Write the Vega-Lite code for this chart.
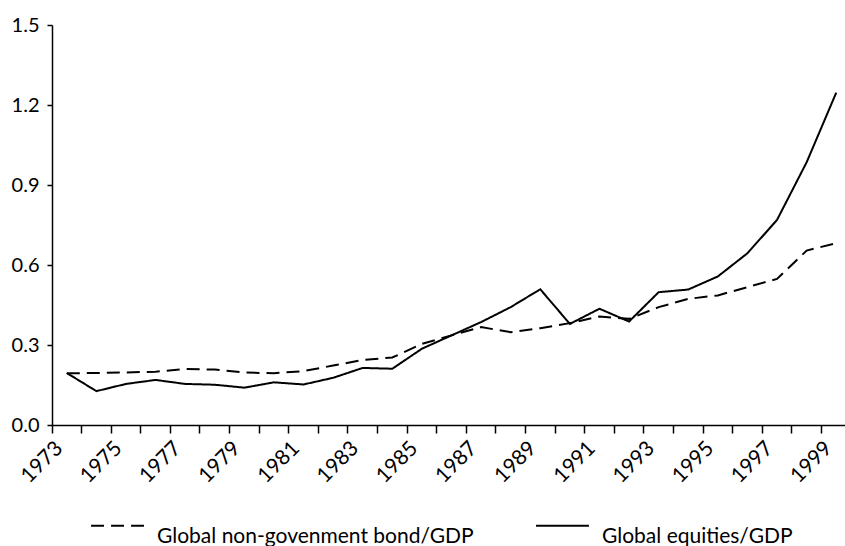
{
  "$schema": "https://vega.github.io/schema/vega-lite/v6.json",
  "autosize": {"type": "none"},
  "padding": {"left": 52, "top": 25, "right": 0, "bottom": 121},
  "width": 799,
  "height": 400,
  "background": "white",
  "config": {
    "font": "Lato",
    "view": {"stroke": null},
    "axis": {"grid": false, "domainColor": "black", "domainWidth": 1.5, "tickColor": "black", "tickWidth": 1.5, "labelColor": "black", "labelFont": "Lato", "labelFontSize": 20, "titleFontSize": 20}
  },
  "data": {
    "values": [
      {"year": 1973, "series": "Global non-govenment bond/GDP", "value": 0.194},
      {"year": 1974, "series": "Global non-govenment bond/GDP", "value": 0.195},
      {"year": 1975, "series": "Global non-govenment bond/GDP", "value": 0.197},
      {"year": 1976, "series": "Global non-govenment bond/GDP", "value": 0.200},
      {"year": 1977, "series": "Global non-govenment bond/GDP", "value": 0.210},
      {"year": 1978, "series": "Global non-govenment bond/GDP", "value": 0.208},
      {"year": 1979, "series": "Global non-govenment bond/GDP", "value": 0.197},
      {"year": 1980, "series": "Global non-govenment bond/GDP", "value": 0.194},
      {"year": 1981, "series": "Global non-govenment bond/GDP", "value": 0.202},
      {"year": 1982, "series": "Global non-govenment bond/GDP", "value": 0.223},
      {"year": 1983, "series": "Global non-govenment bond/GDP", "value": 0.244},
      {"year": 1984, "series": "Global non-govenment bond/GDP", "value": 0.253},
      {"year": 1985, "series": "Global non-govenment bond/GDP", "value": 0.304},
      {"year": 1986, "series": "Global non-govenment bond/GDP", "value": 0.336},
      {"year": 1987, "series": "Global non-govenment bond/GDP", "value": 0.367},
      {"year": 1988, "series": "Global non-govenment bond/GDP", "value": 0.348},
      {"year": 1989, "series": "Global non-govenment bond/GDP", "value": 0.363},
      {"year": 1990, "series": "Global non-govenment bond/GDP", "value": 0.382},
      {"year": 1991, "series": "Global non-govenment bond/GDP", "value": 0.407},
      {"year": 1992, "series": "Global non-govenment bond/GDP", "value": 0.398},
      {"year": 1993, "series": "Global non-govenment bond/GDP", "value": 0.442},
      {"year": 1994, "series": "Global non-govenment bond/GDP", "value": 0.473},
      {"year": 1995, "series": "Global non-govenment bond/GDP", "value": 0.486},
      {"year": 1996, "series": "Global non-govenment bond/GDP", "value": 0.517},
      {"year": 1997, "series": "Global non-govenment bond/GDP", "value": 0.548},
      {"year": 1998, "series": "Global non-govenment bond/GDP", "value": 0.654},
      {"year": 1999, "series": "Global non-govenment bond/GDP", "value": 0.682},
      {"year": 1973, "series": "Global equities/GDP", "value": 0.195},
      {"year": 1974, "series": "Global equities/GDP", "value": 0.127},
      {"year": 1975, "series": "Global equities/GDP", "value": 0.154},
      {"year": 1976, "series": "Global equities/GDP", "value": 0.169},
      {"year": 1977, "series": "Global equities/GDP", "value": 0.154},
      {"year": 1978, "series": "Global equities/GDP", "value": 0.151},
      {"year": 1979, "series": "Global equities/GDP", "value": 0.140},
      {"year": 1980, "series": "Global equities/GDP", "value": 0.160},
      {"year": 1981, "series": "Global equities/GDP", "value": 0.152},
      {"year": 1982, "series": "Global equities/GDP", "value": 0.177},
      {"year": 1983, "series": "Global equities/GDP", "value": 0.214},
      {"year": 1984, "series": "Global equities/GDP", "value": 0.211},
      {"year": 1985, "series": "Global equities/GDP", "value": 0.286},
      {"year": 1986, "series": "Global equities/GDP", "value": 0.336},
      {"year": 1987, "series": "Global equities/GDP", "value": 0.386},
      {"year": 1988, "series": "Global equities/GDP", "value": 0.442},
      {"year": 1989, "series": "Global equities/GDP", "value": 0.509},
      {"year": 1990, "series": "Global equities/GDP", "value": 0.379},
      {"year": 1991, "series": "Global equities/GDP", "value": 0.436},
      {"year": 1992, "series": "Global equities/GDP", "value": 0.388},
      {"year": 1993, "series": "Global equities/GDP", "value": 0.498},
      {"year": 1994, "series": "Global equities/GDP", "value": 0.508},
      {"year": 1995, "series": "Global equities/GDP", "value": 0.557},
      {"year": 1996, "series": "Global equities/GDP", "value": 0.644},
      {"year": 1997, "series": "Global equities/GDP", "value": 0.769},
      {"year": 1998, "series": "Global equities/GDP", "value": 0.985},
      {"year": 1999, "series": "Global equities/GDP", "value": 1.246}
    ]
  },
  "mark": {"type": "line", "color": "black", "strokeWidth": 2},
  "encoding": {
    "x": {
      "field": "year",
      "type": "ordinal",
      "scale": {"type": "band", "paddingInner": 0, "paddingOuter": 0},
      "axis": {
        "title": null,
        "bandPosition": 0,
        "domain": true,
        "ticks": true,
        "labelAngle": -45,
        "labelAlign": "right",
        "labelBaseline": "top",
        "labelOverlap": false,
        "labelPadding": 4,
        "labelOffset": -15,
        "labelFontSize": 21,
        "tickSize": 8,
        "labelExpr": "datum.value % 2 == 1 ? datum.label : ''"
      }
    },
    "y": {
      "field": "value",
      "type": "quantitative",
      "scale": {"domain": [0, 1.5], "nice": false},
      "axis": {"title": null, "domain": true, "ticks": true, "values": [0, 0.3, 0.6, 0.9, 1.2, 1.5], "format": ".1f", "tickSize": 5, "labelPadding": 8}
    },
    "strokeDash": {
      "field": "series",
      "type": "nominal",
      "sort": ["Global non-govenment bond/GDP", "Global equities/GDP"],
      "scale": {"domain": ["Global non-govenment bond/GDP", "Global equities/GDP"], "range": [[13, 7], [1, 0]]},
      "legend": {
        "title": null,
        "orient": "none",
        "legendX": 38,
        "legendY": 473,
        "direction": "horizontal",
        "symbolType": "stroke",
        "symbolSize": 2800,
        "symbolStrokeWidth": 2,
        "symbolStrokeColor": "black",
        "labelFont": "Lato",
        "labelFontSize": 21,
        "labelColor": "black",
        "labelOffset": 12,
        "labelBaseline": "top",
        "labelLimit": 0,
        "columnPadding": 58
      }
    }
  }
}
